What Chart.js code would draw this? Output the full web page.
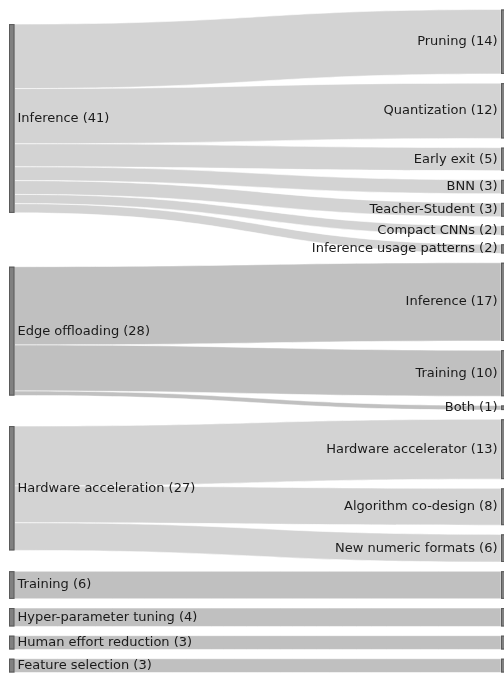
<!DOCTYPE html>
<html lang="en">
<head>
  <meta charset="UTF-8" />
  <title>Sankey</title>
  <script src="https://cdn.jsdelivr.net/npm/chart.js"></script>
  <style>
    body { margin: 0; background: #ffffff; }
    #wrap { width: 504px; height: 673px; }
  </style>
</head>
<body>
<div id="wrap"><canvas id="sankey"></canvas></div>
<script>
// left column
const sources = ['Inference', 'Edge offloading', 'Hardware acceleration', 'Training',
  'Hyper-parameter tuning', 'Human effort reduction', 'Feature selection'];
// right column, grouped by source (empty name = no label)
const targets = [
  ['Pruning', 'Quantization', 'Early exit', 'BNN', 'Teacher-Student', 'Compact CNNs', 'Inference usage patterns'],
  ['Inference', 'Training', 'Both'],
  ['Hardware accelerator', 'Algorithm co-design', 'New numeric formats'],
  [''], [''], [''], ['']
];
const flows = [
  [14, 12, 5, 3, 3, 2, 2],
  [17, 10, 1],
  [13, 8, 6],
  [6], [4], [3], [3]
];

const linkColors = ['#d3d3d3', '#c0c0c0', '#d3d3d3', '#c0c0c0', '#c0c0c0', '#c0c0c0', '#c0c0c0'];
const GAP = 2; // gap between nodes, in value units

// layout in value units
const totals = flows.map(f => f.reduce((a, b) => a + b, 0));
let cursor = 0;
const targetTops = flows.map(f => f.map(v => { const t = cursor; cursor += v + GAP; return t; }));
const totalUnits = cursor - GAP;
const sourceTops = flows.map((f, i) => {
  let s = 0;
  f.forEach((v, j) => { s += v * (targetTops[i][j] + v / 2); });
  return s / totals[i] - totals[i] / 2;
});

const sankeyPlugin = {
  id: 'sankey',
  afterDatasetsDraw(chart) {
    const ctx = chart.ctx;
    const xs = chart.scales.x, ys = chart.scales.y;
    const xL0 = xs.getPixelForValue(0), xR1 = xs.getPixelForValue(1);
    const xL = xL0 + 5.5, xR = xR1 - 3;
    const xm = (xL + xR) / 2;
    ctx.save();
    // links
    flows.forEach((f, i) => {
      let off = sourceTops[i];
      f.forEach((v, j) => {
        const s0 = ys.getPixelForValue(off), s1 = ys.getPixelForValue(off + v);
        const t0 = ys.getPixelForValue(targetTops[i][j]), t1 = ys.getPixelForValue(targetTops[i][j] + v);
        ctx.beginPath();
        ctx.moveTo(xL, s0);
        ctx.bezierCurveTo(xm, s0, xm, t0, xR, t0);
        ctx.lineTo(xR, t1);
        ctx.bezierCurveTo(xm, t1, xm, s1, xL, s1);
        ctx.closePath();
        ctx.fillStyle = linkColors[i];
        ctx.fill();
        ctx.strokeStyle = 'rgba(255,255,255,0.8)';
        ctx.lineWidth = 0.7;
        ctx.stroke();
        off += v;
      });
    });
    // nodes
    ctx.fillStyle = '#808080';
    ctx.strokeStyle = '#5a5a5a';
    ctx.lineWidth = 1;
    sources.forEach((s, i) => {
      const y0 = ys.getPixelForValue(sourceTops[i]), y1 = ys.getPixelForValue(sourceTops[i] + totals[i]);
      ctx.fillRect(xL0, y0, 5.5, y1 - y0);
      ctx.strokeRect(xL0 + 0.5, y0 + 0.5, 4.5, y1 - y0 - 1);
    });
    flows.forEach((f, i) => f.forEach((v, j) => {
      const y0 = ys.getPixelForValue(targetTops[i][j]), y1 = ys.getPixelForValue(targetTops[i][j] + v);
      ctx.fillRect(xR, y0, 6, y1 - y0);
      ctx.strokeRect(xR + 0.5, y0 + 0.5, 5, y1 - y0 - 1);
    }));
    // labels
    ctx.font = '13px "DejaVu Sans", Verdana, sans-serif';
    ctx.fillStyle = '#1a1a1a';
    ctx.textBaseline = 'middle';
    ctx.textAlign = 'left';
    sources.forEach((s, i) => {
      ctx.fillText(s + ' (' + totals[i] + ')', xL + 3, ys.getPixelForValue(sourceTops[i] + totals[i] / 2));
    });
    ctx.textAlign = 'right';
    flows.forEach((f, i) => f.forEach((v, j) => {
      if (!targets[i][j]) return;
      ctx.fillText(targets[i][j] + ' (' + v + ')', xR - 3.5, ys.getPixelForValue(targetTops[i][j] + v / 2));
    }));
    ctx.restore();
  }
};

const points = [];
sources.forEach((s, i) => points.push({ x: 0, y: sourceTops[i] + totals[i] / 2 }));
flows.forEach((f, i) => f.forEach((v, j) => points.push({ x: 1, y: targetTops[i][j] + v / 2 })));

new Chart(document.getElementById('sankey'), {
  type: 'scatter',
  data: { datasets: [{ data: points, pointRadius: 0, pointHoverRadius: 0 }] },
  options: {
    responsive: true,
    maintainAspectRatio: false,
    animation: false,
    layout: { padding: { top: 9.5, bottom: 0.5, left: 9, right: 0 } },
    plugins: { legend: { display: false }, tooltip: { enabled: false } },
    scales: {
      x: { type: 'linear', min: 0, max: 1, display: false },
      y: { type: 'linear', min: 0, max: totalUnits, reverse: true, display: false }
    }
  },
  plugins: [sankeyPlugin]
});
</script>
</body>
</html>
